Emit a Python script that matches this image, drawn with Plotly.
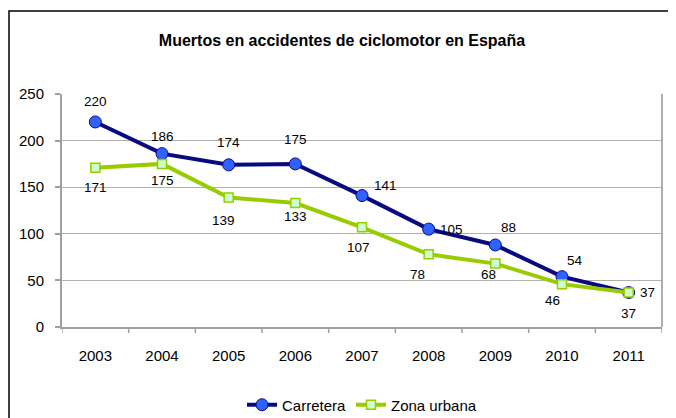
import plotly.graph_objects as go

years = ["2003", "2004", "2005", "2006", "2007", "2008", "2009", "2010", "2011"]
carretera = [220, 186, 174, 175, 141, 105, 88, 54, 37]
zona_urbana = [171, 175, 139, 133, 107, 78, 68, 46, 37]
y_ticks = [0, 50, 100, 150, 200, 250]

# label offsets in pixels (dx, dy) relative to each point
carr_off = [(0, -20), (0, -17), (0, -22), (0, -24), (23, -10), (23, 0), (13, -17), (13, -16), (19, 0)]
zona_off = [(0, 20), (0, 17), (-5, 23), (0, 13), (-4, 20), (-11, 20), (-7, 11), (-10, 16), (0, 21)]

FONT = "Liberation Sans, Arial, sans-serif"

# page body has an 8px margin, so the figure is drawn 8px in from the corner
W, H = 668, 410
L, T, PW, PH = 54, 86, 600, 233

fig = go.Figure()
fig.add_trace(go.Scatter(
    x=list(range(len(years))), y=carretera, name="Carretera", mode="lines+markers",
    line=dict(color="#0a0a80", width=4),
    marker=dict(symbol="circle", size=12, color="#2f62ff", line=dict(color="#0a0a80", width=1)),
))
fig.add_trace(go.Scatter(
    x=list(range(len(years))), y=zona_urbana, name="Zona urbana", mode="lines+markers",
    line=dict(color="#99cc00", width=4),
    marker=dict(symbol="square", size=9, color="#ccffcc", line=dict(color="#99cc00", width=1.5)),
))

annotations = []
for i, (v, (dx, dy)) in enumerate(zip(carretera, carr_off)):
    annotations.append(dict(x=i, y=v, text=str(v), showarrow=False, xshift=dx, yshift=-dy,
                            font=dict(size=13.5, color="#000", family=FONT)))
for i, (v, (dx, dy)) in enumerate(zip(zona_urbana, zona_off)):
    annotations.append(dict(x=i, y=v, text=str(v), showarrow=False, xshift=dx, yshift=-dy,
                            font=dict(size=13.5, color="#000", family=FONT)))

def py(ref_y):
    # reference page pixel y -> paper y
    return ((T + PH) - (ref_y - 8)) / PH

def px(ref_x):
    return ((ref_x - 8) - L) / PW

fig.update_layout(
    width=W, height=H,
    margin=dict(l=L, r=W - L - PW, t=T, b=H - T - PH, autoexpand=False),
    paper_bgcolor="white", plot_bgcolor="white",
    font=dict(family=FONT, size=15, color="#000"),
    title=dict(text="<b>Muertos en accidentes de ciclomotor en España</b>",
               x=0.5, xanchor="center", y=1 - 32 / H, yanchor="middle",
               font=dict(size=16, family=FONT, color="#000")),
    showlegend=True,
    legend=dict(orientation="h", x=0.5, xanchor="center", y=py(405), yanchor="middle",
                font=dict(size=15, family=FONT), itemwidth=30, tracegroupgap=0,
                bgcolor="rgba(0,0,0,0)"),
    annotations=annotations,
    shapes=[dict(type="rect", xref="paper", yref="paper", x0=px(9), x1=px(672),
                 y0=-0.6, y1=py(11), line=dict(color="#000", width=1.5), layer="below")],
)
fig.update_xaxes(
    range=[-0.5, 8.5], tickvals=list(range(len(years))), ticktext=years,
    ticks="", showline=True, linecolor="#a0a0a0", linewidth=2, showgrid=False, zeroline=False,
    ticklabelstandoff=14, tickfont=dict(size=15, family=FONT),
)
fig.update_yaxes(
    range=[0, 250], tickvals=y_ticks, ticks="outside", ticklen=5, tickcolor="#a0a0a0", tickwidth=1.5,
    showline=True, linecolor="#a0a0a0", linewidth=2,
    showgrid=True, gridcolor="#b0b0b0", gridwidth=1, zeroline=False,
    ticklabelstandoff=8, tickfont=dict(size=15, family=FONT),
)
# category boundary ticks below the x axis
for b in range(len(years) + 1):
    fig.add_shape(type="line", xref="x", yref="paper", x0=b - 0.5, x1=b - 0.5, y0=0, y1=-6 / PH,
                  line=dict(color="#a0a0a0", width=1.5))
fig.add_shape(type="line", xref="paper", yref="paper", x0=1, x1=1, y0=0, y1=1,
              line=dict(color="#b0b0b0", width=2))

fig.write_html("out.html")
